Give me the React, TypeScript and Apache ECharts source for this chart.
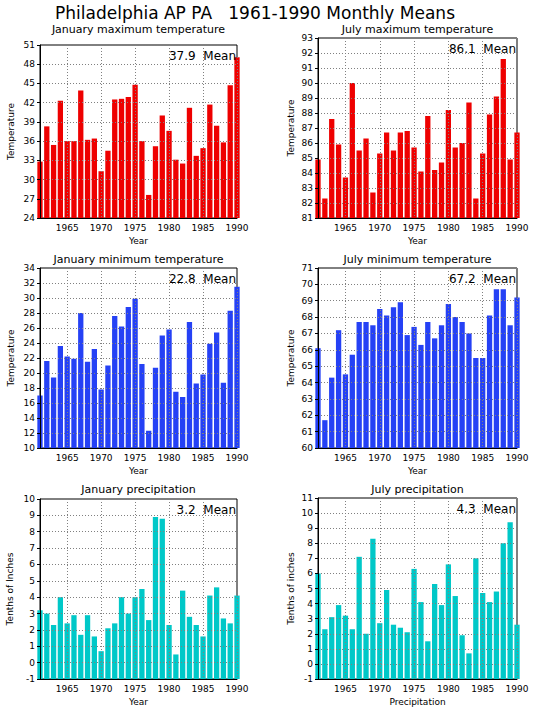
import React, { useEffect, useRef } from "react";
import * as echarts from "echarts";

const years = [
  "1961", "1962", "1963", "1964", "1965", "1966", "1967", "1968", "1969", "1970",
  "1971", "1972", "1973", "1974", "1975", "1976", "1977", "1978", "1979", "1980",
  "1981", "1982", "1983", "1984", "1985", "1986", "1987", "1988", "1989", "1990",
];

const janMax = [32.8, 38.3, 35.4, 42.3, 36.0, 36.0, 43.9, 36.2, 36.4, 31.3, 34.5, 42.5, 42.6, 42.9, 44.8, 36.0, 27.6, 35.2, 40.0, 37.6, 33.1, 32.5, 41.2, 33.7, 34.9, 41.7, 38.4, 35.8, 44.7, 49.1];
const julMax = [84.9, 82.3, 87.6, 85.9, 83.7, 90.0, 85.5, 86.3, 82.7, 85.3, 86.7, 85.5, 86.7, 86.8, 85.7, 84.1, 87.8, 84.2, 84.7, 88.2, 85.7, 86.0, 88.7, 82.3, 85.3, 87.9, 89.1, 91.6, 84.9, 86.7];
const janMin = [17.0, 21.6, 19.4, 23.6, 22.2, 21.9, 28.0, 21.5, 23.2, 17.8, 21.0, 27.6, 26.2, 28.8, 29.9, 21.2, 12.3, 20.7, 25.0, 25.8, 17.5, 16.8, 26.8, 18.6, 19.8, 23.9, 25.4, 18.7, 28.3, 31.5];
const julMin = [66.1, 61.7, 64.3, 67.2, 64.5, 65.7, 67.7, 67.7, 67.5, 68.5, 68.1, 68.6, 68.9, 66.9, 67.4, 66.3, 67.7, 66.7, 67.5, 68.8, 68.0, 67.7, 67.0, 65.5, 65.5, 68.1, 69.7, 69.7, 67.5, 69.2];
const janPcp = [3.2, 3.0, 2.3, 4.0, 2.4, 2.9, 1.7, 2.9, 1.6, 0.7, 2.1, 2.4, 4.0, 3.0, 4.0, 4.5, 2.6, 8.9, 8.8, 2.3, 0.5, 4.4, 2.8, 2.3, 1.6, 4.1, 4.6, 2.7, 2.4, 4.1];
const julPcp = [6.0, 2.3, 3.1, 3.9, 3.2, 2.3, 7.1, 2.0, 8.3, 2.7, 4.9, 2.6, 2.4, 2.1, 6.3, 4.1, 1.5, 5.3, 3.9, 6.6, 4.5, 1.9, 0.7, 7.0, 4.7, 4.1, 4.8, 8.0, 9.4, 2.6];

const mainTitle = "Philadelphia AP PA   1961-1990 Monthly Means";
const panelTitles = [
  "January maximum temperature",
  "July maximum temperature",
  "January minimum temperature",
  "July minimum temperature",
  "January precipitation",
  "July precipitation",
];
const meanLabels = ["37.9", "86.1", "22.8", "67.2", "3.2", "4.3"];
const yNames = ["Temperature", "Temperature", "Temperature", "Temperature", "Tenths of Inches", "Tenths of inches"];
const xNames = ["Year", "Year", "Year", "Year", "Year", "Precipitation"];
const yMins = [24, 81, 10, 60, -1, -1];
const yMaxs = [51, 93, 34, 71, 10, 11];
const yIntervals = [3, 1, 2, 1, 1, 1];
const seriesData = [janMax, julMax, janMin, julMin, janPcp, julPcp];

const RED = "#ee0000";
const BLUE = "#2541f5";
const CYAN = "#00c8c8";
const colors = [RED, RED, BLUE, BLUE, CYAN, CYAN];

// layout (pixels)
const grids = [
  { left: 40, top: 45, width: 197, height: 173 },
  { left: 318, top: 38, width: 199, height: 180 },
  { left: 40, top: 268, width: 197, height: 180 },
  { left: 318, top: 268, width: 199, height: 180 },
  { left: 40, top: 499, width: 197, height: 180 },
  { left: 318, top: 498, width: 199, height: 181 },
];
const titleTops = [24, 24, 254, 254, 484, 484];
const yNameGaps = [25, 23, 25, 23, 26, 23];

const FONT = "DejaVu Sans";

export default function App() {
  const ref = useRef<HTMLDivElement>(null);

  useEffect(() => {
    document.body.style.margin = "0";
    if (!ref.current) return;
    const chart = echarts.init(ref.current, null, { renderer: "svg" });
    const showYear = (_i: number, v: string) => Number(v) % 5 === 0;

    const option: any = {
      animation: false,
      backgroundColor: "#ffffff",
      title: [
        {
          text: mainTitle,
          left: 255,
          top: 4,
          textAlign: "center",
          padding: 0,
          textStyle: { fontFamily: FONT, fontSize: 17, lineHeight: 18, fontWeight: "normal", color: "#000" },
        },
        ...panelTitles.map((t, i) => ({
          text: t,
          left: grids[i].left + grids[i].width / 2,
          top: titleTops[i],
          textAlign: "center",
          padding: 0,
          textStyle: { fontFamily: FONT, fontSize: 11, lineHeight: 11, fontWeight: "normal", color: "#000" },
        })),
      ],
      grid: grids.map((g) => ({
        ...g,
        show: true,
        borderColor: "#000",
        borderWidth: 1,
        backgroundColor: "transparent",
        containLabel: false,
      })),
      xAxis: grids.map((_g, i) => ({
        type: "category",
        gridIndex: i,
        data: years,
        boundaryGap: false,
        z: 3,
        name: xNames[i],
        nameLocation: "middle",
        nameGap: 18,
        nameTextStyle: { fontFamily: FONT, fontSize: 9, color: "#000" },
        axisLine: { show: true, onZero: false, lineStyle: { color: "#000", width: 1 } },
        axisTick: { show: false },
        axisLabel: {
          interval: showYear,
          fontFamily: FONT,
          fontSize: 9,
          color: "#000",
          margin: 5,
        },
        splitLine: {
          show: true,
          interval: showYear,
          lineStyle: { color: "#808080", type: [1, 2], width: 1 },
        },
      })),
      yAxis: grids.map((_g, i) => ({
        type: "value",
        gridIndex: i,
        min: yMins[i],
        max: yMaxs[i],
        interval: yIntervals[i],
        startValue: yMins[i],
        z: 3,
        name: yNames[i],
        nameLocation: "middle",
        nameGap: yNameGaps[i],
        nameTextStyle: { fontFamily: FONT, fontSize: 9, color: "#000" },
        axisLine: { show: true, onZero: false, lineStyle: { color: "#000", width: 1 } },
        axisTick: { show: true, length: 3, lineStyle: { color: "#000" } },
        axisLabel: { fontFamily: FONT, fontSize: 9, color: "#000", margin: 5 },
        splitLine: {
          show: true,
          lineStyle: { color: "#808080", type: [1, 2], width: 1 },
        },
      })),
      series: seriesData.map((d, i) => ({
        type: "bar",
        xAxisIndex: i,
        yAxisIndex: i,
        data: d,
        barWidth: 5.3,
        clip: true,
        itemStyle: { color: colors[i] },
        z: 2,
      })),
      graphic: meanLabels.map((m, i) => ({
        type: "text",
        x: grids[i].left + grids[i].width - 1,
        y: grids[i].top + 11,
        z: 10,
        style: {
          text: `${m}  Mean`,
          fontFamily: FONT,
          fontSize: 12,
          fill: "#000",
          align: "right",
          verticalAlign: "middle",
        },
      })),
    };

    chart.setOption(option);
    return () => {
      chart.dispose();
    };
  }, []);

  return <div ref={ref} style={{ width: 535, height: 711 }} />;
}
